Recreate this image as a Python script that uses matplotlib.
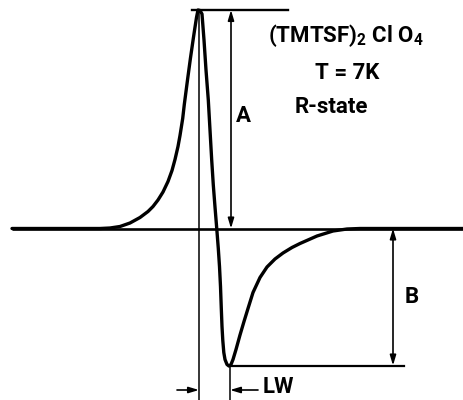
import matplotlib
matplotlib.use("Agg")
import matplotlib.pyplot as plt

# Field position (arbitrary units) and derivative ESR signal (arbitrary units, baseline = 0)
field = [12, 100, 110, 120, 130, 140, 148, 153, 158, 163, 168, 172, 175, 178, 180,
         182.7, 184.3, 186, 187.7, 190.4, 193.3, 194.8, 196.5, 198,
         200, 202, 204, 206, 208.3, 210, 211.7, 213.3, 215, 216.7, 218.3, 219.5, 220.5,
         221.3, 222, 222.8, 223.8, 225, 227, 229, 231, 233, 236, 240, 244, 248, 253,
         260, 267, 275, 283, 292, 300, 317, 333, 347, 360, 464]
signal = [0, 0, 0.5, 2, 5.5, 11, 17, 22, 28.5, 36.5, 47, 58, 69, 82, 93,
          110, 124, 137, 150, 170, 190, 200, 211, 218.5,
          218, 214.5, 188.5, 158.5, 128.5, 98.5, 68.5, 43.5, 21.5, 0.5, -20, -38, -58,
          -80, -98, -112, -124, -131, -136, -137.5, -136, -131, -121, -106.5, -93, -80, -64,
          -49, -38.5, -30.5, -24.5, -19, -15, -7.5, -2.5, -0.5, 0, 0]

peak_y = 218.5
min_x, min_y = 229, -137

fig = plt.figure(figsize=(4.64, 4.0), dpi=100)
ax = fig.add_axes([0, 0, 1, 1])
ax.set_xlim(0, 464)
ax.set_ylim(-171.5, 228.5)
ax.axis("off")

def py(p):
    return 228.5 - p

k = "black"
ax.plot([12, 464], [0, 0], color=k, lw=1.9, solid_capstyle="butt")
ax.plot(field, signal, color=k, lw=2.4, solid_joinstyle="round", solid_capstyle="round")
ax.plot([192, 288], [peak_y + 0.5, peak_y + 0.5], color=k, lw=1.7)
ax.plot([min_x, 404], [min_y, min_y], color=k, lw=1.6)
ax.plot([199, 199], [peak_y, py(400)], color=k, lw=1.1)
ax.plot([230, 230], [min_y, py(400)], color=k, lw=1.1)

ap = dict(arrowstyle="<|-|>,head_length=0.6,head_width=0.18", color=k, lw=1.2,
          shrinkA=0, shrinkB=0)
ax.annotate("", xy=(231, peak_y), xytext=(231, 0), arrowprops=ap)
ax.annotate("", xy=(393, 0), xytext=(393, min_y), arrowprops=ap)

ap1 = dict(arrowstyle="-|>,head_length=0.6,head_width=0.18", color=k, lw=1.2,
           shrinkA=0, shrinkB=0)
ax.annotate("", xy=(199, py(390)), xytext=(177, py(390)), arrowprops=ap1)
ax.annotate("", xy=(230, py(390)), xytext=(258, py(390)), arrowprops=ap1)

plt.rcParams["mathtext.fontset"] = "custom"
plt.rcParams["mathtext.rm"] = "Roboto:bold"
plt.rcParams["mathtext.it"] = "Roboto:bold"
plt.rcParams["mathtext.bf"] = "Roboto:bold"
tk = dict(fontsize=16, fontweight="bold", family=["Roboto", "DejaVu Sans"], va="center")
ax.text(236, py(116), "A", ha="left", **tk)
ax.text(405, py(297), "B", ha="left", **tk)
ax.text(263, py(387), "LW", ha="left", **tk)
ax.text(346, py(36), "(TMTSF)$_{2}$ Cl O$_{4}$", ha="center", **tk)
ax.text(347, py(73), "T = 7K", ha="center", **tk)
ax.text(331, py(107), "R-state", ha="center", **tk)

fig.savefig("out.png", dpi=100)
